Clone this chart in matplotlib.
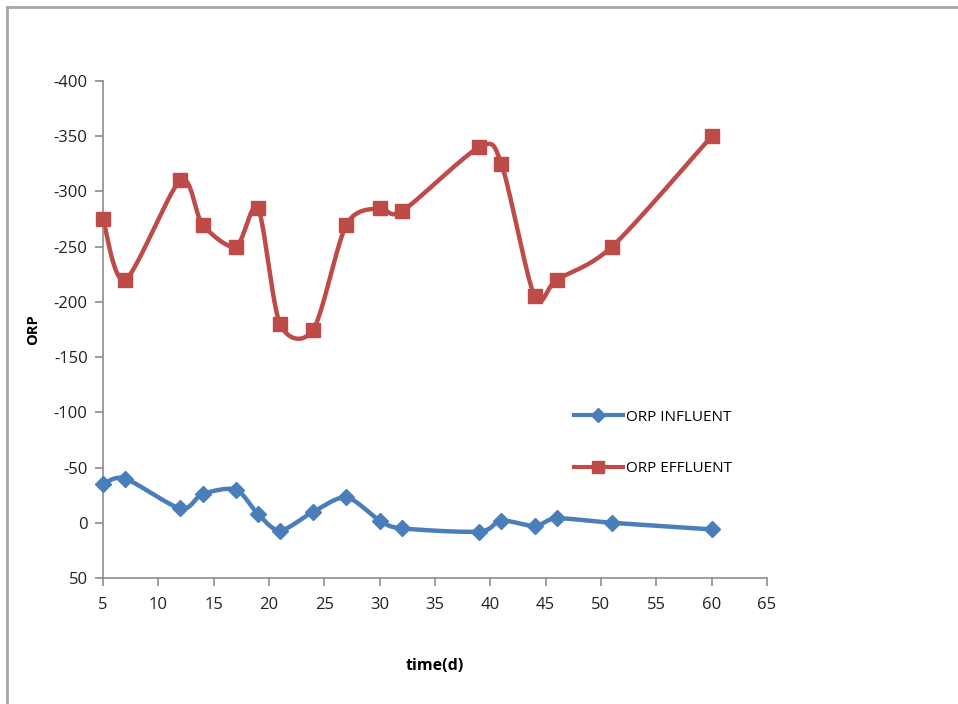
import numpy as np
import matplotlib
matplotlib.use("Agg")
import matplotlib.pyplot as plt
from matplotlib.lines import Line2D

# Sampling days and ORP readings (mV)
days = [5, 7, 12, 14, 17, 19, 21, 24, 27, 30, 32, 39, 41, 44, 46, 51, 60]
orp_influent = [-35, -40, -13, -26, -30, -8, 7, -10, -23, -2, 5, 8, -2, 3, -4, 0, 6]
orp_effluent = [-275, -220, -310, -270, -250, -285, -180, -175, -270, -285, -282,
                -340, -325, -205, -220, -250, -350]

x_ticks = list(range(5, 70, 5))
y_ticks = list(range(-400, 100, 50))

BLUE = "#4A7EBB"
RED = "#BE4B48"


def smooth(xs, ys, n=30, k=7.0):
    """Cubic Bezier smoothing through every point (spreadsheet-style)."""
    p = np.column_stack([xs, ys]).astype(float)
    m = len(p)
    out = [p[0]]
    for i in range(m - 1):
        p0 = p[i - 1] if i > 0 else p[i]
        p1, p2 = p[i], p[i + 1]
        p3 = p[i + 2] if i + 2 < m else p[i + 1]
        c1 = p1 + (p2 - p0) / k
        c2 = p2 - (p3 - p1) / k
        t = np.linspace(0, 1, n)[1:, None]
        seg = ((1 - t) ** 3) * p1 + 3 * ((1 - t) ** 2) * t * c1 \
            + 3 * (1 - t) * t ** 2 * c2 + t ** 3 * p2
        out.extend(seg)
    out = np.array(out)
    return out[:, 0], out[:, 1]


plt.rcParams["font.family"] = ["Open Sans", "DejaVu Sans"]
plt.rcParams["axes.unicode_minus"] = False

fig = plt.figure(figsize=(9.58, 7.04), dpi=100)
ax = fig.add_axes([103 / 958, 1 - 578 / 704, (767 - 103) / 958, (578 - 81) / 704])

for ys, color, marker, ms in [
    (orp_influent, BLUE, "D", 8),
    (orp_effluent, RED, "s", 10),
]:
    sx, sy = smooth(days, ys)
    ax.plot(sx, sy, color=color, lw=3.2, solid_capstyle="round", zorder=2)
    ax.plot(days, ys, linestyle="none", marker=marker, ms=ms, color=color,
            markeredgecolor=color, zorder=3, clip_on=False)

ax.set_xlim(5, 65)
ax.set_ylim(50, -400)
ax.set_xticks(x_ticks)
ax.set_yticks(y_ticks)

for s in ("top", "right"):
    ax.spines[s].set_visible(False)
for s in ("left", "bottom"):
    ax.spines[s].set_color("#8C8C8C")
    ax.spines[s].set_linewidth(1.2)
ax.tick_params(axis="both", direction="out", length=6, width=1.2,
               color="#8C8C8C", labelsize=12, labelcolor="#222222")
ax.tick_params(axis="x", pad=8)
ax.tick_params(axis="y", pad=5)

ax.set_ylabel("ORP", fontsize=10.5, fontweight="bold", labelpad=10)
ax.set_xlabel("time(d)", fontsize=11.5, fontweight="bold", labelpad=32)

handles = [
    Line2D([], [], color=BLUE, lw=3, marker="D", ms=7, label="ORP INFLUENT"),
    Line2D([], [], color=RED, lw=3, marker="s", ms=9, label="ORP EFFLUENT"),
]
fig.legend(handles=handles, loc="upper left",
           bbox_to_anchor=(560 / 958, 1 - 396 / 704), frameon=False,
           fontsize=11, labelspacing=2.4, handlelength=3.2,
           handletextpad=0.2)

# Chart-area border along the top and left edges
fig.add_artist(Line2D([7 / 958, 1.0], [1 - 7 / 704, 1 - 7 / 704],
                      transform=fig.transFigure, color="#A6A6A6", lw=2))
fig.add_artist(Line2D([7 / 958, 7 / 958], [0, 1 - 7 / 704],
                      transform=fig.transFigure, color="#A6A6A6", lw=2))

fig.savefig("out.png", dpi=100)
